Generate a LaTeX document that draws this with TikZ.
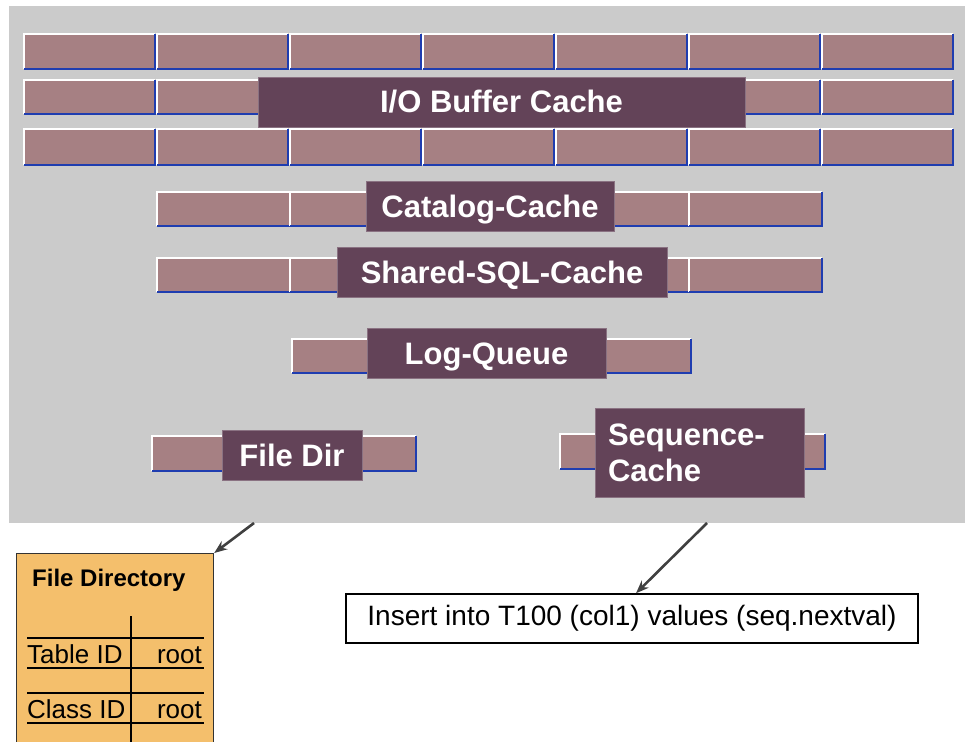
\documentclass[tikz,border=0pt]{standalone}
\usepackage{fontspec}
\setmainfont{Liberation Sans}
\usepackage{tikz}
\usetikzlibrary{arrows.meta}

\definecolor{brickred}{HTML}{A68083}
\definecolor{labelplum}{HTML}{634358}
\definecolor{edgeblue}{HTML}{1F3DB0}
\definecolor{areagray}{HTML}{CBCBCB}
\definecolor{dirorange}{HTML}{F4BF6C}
\definecolor{arrowgray}{HTML}{404040}

% one brick: left, top, right, bottom
\newcommand{\brickat}[4]{%
  \fill[brickred] (#1,#2) rectangle (#3,#4);
  \draw[white,line width=1.6pt] (#1,#4) -- (#1,#2) -- (#3,#2);
  \draw[edgeblue,line width=2pt] (#1,#4) -- (#3,#4) -- (#3,#2);
}

\tikzset{
  cachelabel/.style={fill=labelplum,draw=labelplum!75!white,text=white,
    font=\fontsize{31}{36}\selectfont\bfseries,inner sep=0pt},
  onerow/.style={text height=22pt,text depth=0pt},
  tabletext/.style={font=\fontsize{26}{30}\selectfont,inner sep=0pt},
  pointer/.style={arrowgray,line width=2.6pt,-{Stealth[length=13pt,width=10pt]}},
}

\begin{document}
\begin{tikzpicture}[x=1pt,y=-1pt]
\useasboundingbox (0,0) rectangle (965,741);

% shared memory area
\node[fill=areagray,minimum width=956pt,minimum height=517pt,inner sep=0pt,anchor=north west] (area) at (9,6) {};

% buffer cache rows
\foreach \ytop/\ybot in {34/69,80/114,129/165} {
  \foreach \i in {0,...,6} {
    \pgfmathsetmacro{\xa}{24+133*\i}
    \pgfmathsetmacro{\xb}{\xa+131}
    \brickat{\xa}{\ytop}{\xb}{\ybot}
  }
}
% catalog and sql rows
\foreach \ytop/\ybot in {192/226,258/292} {
  \foreach \i in {1,...,5} {
    \pgfmathsetmacro{\xa}{24+133*\i}
    \pgfmathsetmacro{\xb}{\xa+133}
    \brickat{\xa}{\ytop}{\xb}{\ybot}
  }
}
% log queue row
\foreach \i in {2,...,4} {
  \pgfmathsetmacro{\xa}{26+133*\i}
  \pgfmathsetmacro{\xb}{\xa+133}
  \brickat{\xa}{339}{\xb}{373}
}
\brickat{152}{436}{284}{471}
\brickat{284}{436}{416}{471}
\brickat{560}{434}{692}{469}
\brickat{692}{434}{825}{469}

% labels
\node[cachelabel,onerow,minimum width=487pt,minimum height=50pt] (iobuf) at (501.5,102) {I/O Buffer Cache};
\node[cachelabel,onerow,minimum width=248pt,minimum height=50pt] (catalog) at (490,206) {Catalog-Cache};
\node[cachelabel,onerow,minimum width=330pt,minimum height=50pt] (sqlcache) at (502,272) {Shared-SQL-Cache};
\node[cachelabel,onerow,minimum width=239pt,minimum height=50pt] (logq) at (486.5,353) {Log-Queue};
\node[cachelabel,onerow,minimum width=140pt,minimum height=50pt] (filedir) at (292,455) {File Dir};
\node[cachelabel,minimum width=209pt,minimum height=89pt,align=left,text width=183pt] (seqcache) at (699.5,452.5) {Sequence-\\Cache};

% file directory
\node[fill=dirorange,draw=black!80,line width=1.2pt,minimum width=197pt,minimum height=200pt,inner sep=0pt,anchor=north west] (dirbox) at (16,553) {};
\node[font=\fontsize{24}{28}\selectfont\bfseries,inner sep=0pt,anchor=base west] (dirtitle) at (32,586) {File Directory};
\draw[line width=1.2pt] (131,616) -- (131,745);
\foreach \y in {638,668,693,723}
  \draw[line width=1.2pt] (27,\y) -- (204,\y);
\node[tabletext,anchor=base west] (tabid) at (27,663) {Table ID};
\node[tabletext,anchor=base east] (tabroot) at (202,663) {root};
\node[tabletext,anchor=base west] (clsid) at (27,718) {Class ID};
\node[tabletext,anchor=base east] (clsroot) at (202,718) {root};

% statement
\node[draw=black,line width=1.5pt,minimum width=572pt,minimum height=49pt,inner sep=0pt,
  font=\fontsize{28}{32}\selectfont] (stmt) at (632,618.5) {Insert into T100 (col1) values (seq.nextval)};

% pointers
\coordinate (fromdir) at (254,523);
\coordinate (fromseq) at (707,523);
\draw[pointer] (fromdir) -- (dirbox.north east);
\draw[pointer] (fromseq) -- (stmt.north -| 636,0);
\end{tikzpicture}
\end{document}
